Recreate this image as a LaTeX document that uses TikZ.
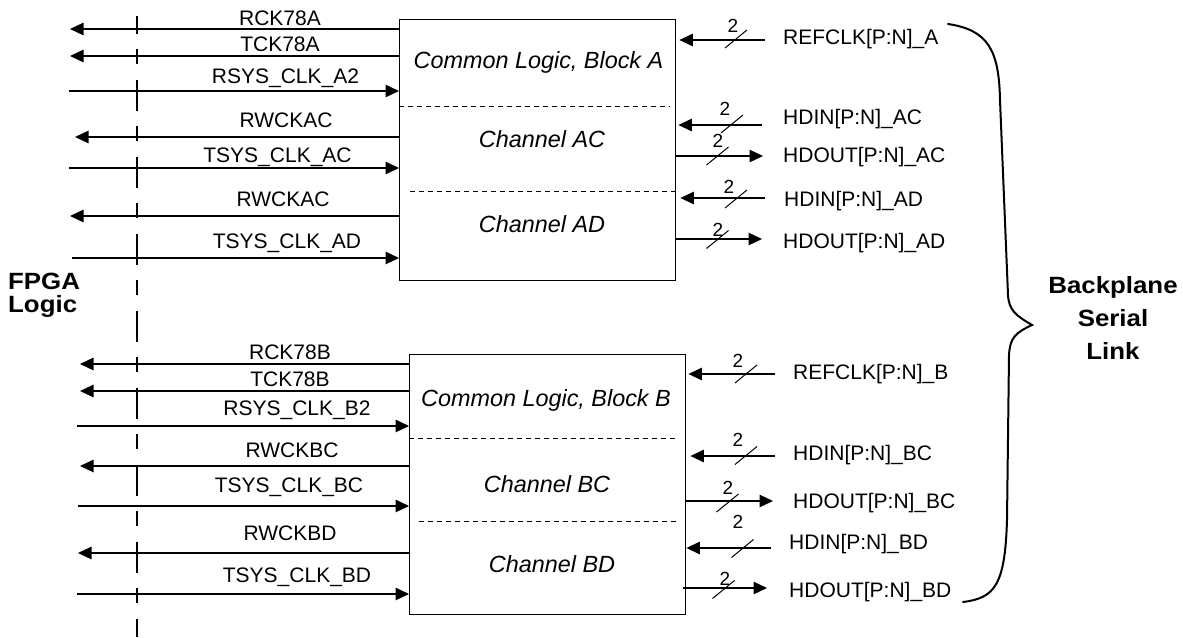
\documentclass[tikz,border=0pt]{standalone}
\usepackage{fontspec}
\setmainfont{Liberation Sans}
\newfontfamily\widefont{Liberation Sans}[FakeStretch=1.1]
\usetikzlibrary{arrows.meta}
\begin{document}
\begin{tikzpicture}[x=1pt,y=-1pt,
  sig/.style={line width=1.2pt},
  tipl/.style={-{Triangle[length=13.5pt,width=12.5pt]}},
  lbl/.style={inner sep=0pt, anchor=base, font=\fontsize{21}{25}\selectfont},
  rlbl/.style={inner sep=0pt, anchor=base west, font=\fontsize{21}{25}\selectfont},
  num/.style={inner sep=0pt, anchor=base, font=\fontsize{19}{22}\selectfont},
  blk/.style={draw, line width=1.4pt, inner sep=0pt, anchor=north west},
  blktxt/.style={inner sep=0pt, anchor=base, font=\fontsize{23.4}{27}\selectfont\itshape},
  sepline/.style={line width=1pt, dash pattern=on 4.5pt off 4.5pt},
  bus/.style={line width=1pt},
  big/.style={inner sep=0pt, font=\widefont\bfseries\fontsize{23.5}{27}\selectfont},
  bracepath/.style={line width=2pt, line cap=round},
  divider/.style={line width=1.2pt, dash pattern=on 31pt off 15.5pt on 15pt off 15.5pt, dash phase=13.4pt}
]
\fill[white] (0,0) rectangle (1183,637);
\useasboundingbox (0,0) rectangle (1183,637);

% divider
\coordinate (dtop) at (137,16);
\coordinate (dbot) at (137,637);
\draw[divider] (dtop) -- (dbot);

% blocks
\node[blk, minimum width=276pt, minimum height=261pt] (A) at (399,19) {};
\node[blk, minimum width=276pt, minimum height=260pt] (B) at (409,354) {};

% separators
\draw[sepline] (A.west |- 0,106) -- (670,106);
\draw[sepline] (410,191) -- (677,191);
\draw[sepline] (B.west |- 0,438) -- (677,438);
\draw[sepline] (419,521) -- (677,521);

% block texts
\node[blktxt] (tA1) at (538.5,68) {Common Logic, Block A};
\node[blktxt] (tA2) at (542,147) {Channel AC};
\node[blktxt] (tA3) at (542,232) {Channel AD};
\node[blktxt] (tB1) at (546,406) {Common Logic, Block B};
\node[blktxt] (tB2) at (547,492) {Channel BC};
\node[blktxt] (tB3) at (552,572) {Channel BD};

% ---------- left signals, block A
\coordinate (la1) at (70,29);
\coordinate (la2) at (70,56);
\coordinate (la3) at (69,91);
\coordinate (la4) at (75,137);
\coordinate (la5) at (69,168);
\coordinate (la6) at (70,216);
\coordinate (la7) at (72,258);
\draw[sig,tipl] (A.west |- la1) -- (la1);
\draw[sig,tipl] (A.west |- la2) -- (la2);
\draw[sig,tipl] (la3) -- (A.west |- la3);
\draw[sig,tipl] (A.west |- la4) -- (la4);
\draw[sig,tipl] (la5) -- (A.west |- la5);
\draw[sig,tipl] (A.west |- la6) -- (la6);
\draw[sig,tipl] (la7) -- (A.west |- la7);
\node[lbl] (na1) at (280,25) {RCK78A};
\node[lbl] (na2) at (280,51) {TCK78A};
\node[lbl] (na3) at (285.5,83) {RSYS\_CLK\_A2};
\node[lbl] (na4) at (286,127) {RWCKAC};
\node[lbl] (na5) at (277.5,162) {TSYS\_CLK\_AC};
\node[lbl] (na6) at (283,206) {RWCKAC};
\node[lbl] (na7) at (287,248) {TSYS\_CLK\_AD};

% ---------- left signals, block B
\coordinate (lb1) at (80,364);
\coordinate (lb2) at (80,391);
\coordinate (lb3) at (77,426);
\coordinate (lb4) at (80,466);
\coordinate (lb5) at (78,506);
\coordinate (lb6) at (78,553);
\coordinate (lb7) at (77,594);
\draw[sig,tipl] (B.west |- lb1) -- (lb1);
\draw[sig,tipl] (B.west |- lb2) -- (lb2);
\draw[sig,tipl] (lb3) -- (B.west |- lb3);
\draw[sig,tipl] (B.west |- lb4) -- (lb4);
\draw[sig,tipl] (lb5) -- (B.west |- lb5);
\draw[sig,tipl] (B.west |- lb6) -- (lb6);
\draw[sig,tipl] (lb7) -- (B.west |- lb7);
\node[lbl] (nb1) at (290,359) {RCK78B};
\node[lbl] (nb2) at (290,386) {TCK78B};
\node[lbl] (nb3) at (297,415) {RSYS\_CLK\_B2};
\node[lbl] (nb4) at (292,457) {RWCKBC};
\node[lbl] (nb5) at (289,492) {TSYS\_CLK\_BC};
\node[lbl] (nb6) at (290,540) {RWCKBD};
\node[lbl] (nb7) at (297,582) {TSYS\_CLK\_BD};

% ---------- right signals, block A
\coordinate (ra1) at (765,40);
\coordinate (ra2) at (762,125);
\coordinate (ra3) at (763,156);
\coordinate (ra4) at (765,198);
\coordinate (ra5) at (762,239);
\draw[sig,tipl] (ra1) -- ([xshift=3pt]A.east |- ra1);
\draw[sig,tipl] (ra2) -- ([xshift=2pt]A.east |- ra2);
\draw[sig,tipl] (A.east |- ra3) -- (ra3);
\draw[sig,tipl] (ra4) -- ([xshift=4pt]A.east |- ra4);
\draw[sig,tipl] (A.east |- ra5) -- (ra5);
\coordinate (sa1) at (736,39);
\coordinate (sa2) at (732,124);
\coordinate (sa3) at (717.5,156);
\coordinate (sa4) at (736,199);
\coordinate (sa5) at (717.5,239.5);
\foreach \s in {sa1,sa2,sa3,sa4,sa5} \draw[bus] (\s) ++(-11,9) -- ++(22,-18);
\node[num] (ka1) at (733,32) {2};
\node[num] (ka2) at (725,115) {2};
\node[num] (ka3) at (718,147) {2};
\node[num] (ka4) at (729,193) {2};
\node[num] (ka5) at (718,236) {2};
\node[rlbl] (ma1) at (783,44) {REFCLK[P:N]\_A};
\node[rlbl] (ma2) at (783,124) {HDIN[P:N]\_AC};
\node[rlbl] (ma3) at (783,162) {HDOUT[P:N]\_AC};
\node[rlbl] (ma4) at (784,206) {HDIN[P:N]\_AD};
\node[rlbl] (ma5) at (783,248) {HDOUT[P:N]\_AD};

% ---------- right signals, block B
\coordinate (rb1) at (775,374);
\coordinate (rb2) at (775,456);
\coordinate (rb3) at (773,501);
\coordinate (rb4) at (771,548);
\coordinate (rb5) at (767,588);
\draw[sig,tipl] (rb1) -- ([xshift=2pt]B.east |- rb1);
\draw[sig,tipl] (rb2) -- ([xshift=4pt]B.east |- rb2);
\draw[sig,tipl] (B.east |- rb3) -- (rb3);
\draw[sig,tipl] (rb4) -- (B.east |- rb4);
\draw[sig,tipl] ([xshift=-3pt]B.east |- rb5) -- (rb5);
\coordinate (sb1) at (746,374);
\coordinate (sb2) at (746,455.5);
\coordinate (sb3) at (727.5,503);
\coordinate (sb4) at (742.5,548.5);
\coordinate (sb5) at (723.5,589.5);
\foreach \s in {sb1,sb2,sb3,sb4,sb5} \draw[bus] (\s) ++(-11,9) -- ++(22,-18);
\node[num] (kb1) at (738,367) {2};
\node[num] (kb2) at (738,446) {2};
\node[num] (kb3) at (728,494) {2};
\node[num] (kb4) at (738,528) {2};
\node[num] (kb5) at (725,585) {2};
\node[rlbl] (mb1) at (793,379) {REFCLK[P:N]\_B};
\node[rlbl] (mb2) at (793,460) {HDIN[P:N]\_BC};
\node[rlbl] (mb3) at (793,508) {HDOUT[P:N]\_BC};
\node[rlbl] (mb4) at (789,549) {HDIN[P:N]\_BD};
\node[rlbl] (mb5) at (789,597) {HDOUT[P:N]\_BD};

% ---------- brace
\draw[bracepath] (948,24) .. controls (988,30) and (999,50) .. (1000,100)
  -- (1008,295) .. controls (1009,310) and (1015,315) .. (1032,325)
  .. controls (1015,333) and (1010,338) .. (1009,355)
  -- (1007,520) .. controls (1005,585) and (995,598) .. (963,602);

% ---------- big labels
\node[big, anchor=base] (bp1) at (1113,293) {Backplane};
\node[big, anchor=base] (bp2) at (1113,326) {Serial};
\node[big, anchor=base] (bp3) at (1113,359) {Link};
\node[big, anchor=base west] (fp1) at (8,289) {FPGA};
\node[big, anchor=base west] (fp2) at (8,312.5) {Logic};
\end{tikzpicture}
\end{document}
